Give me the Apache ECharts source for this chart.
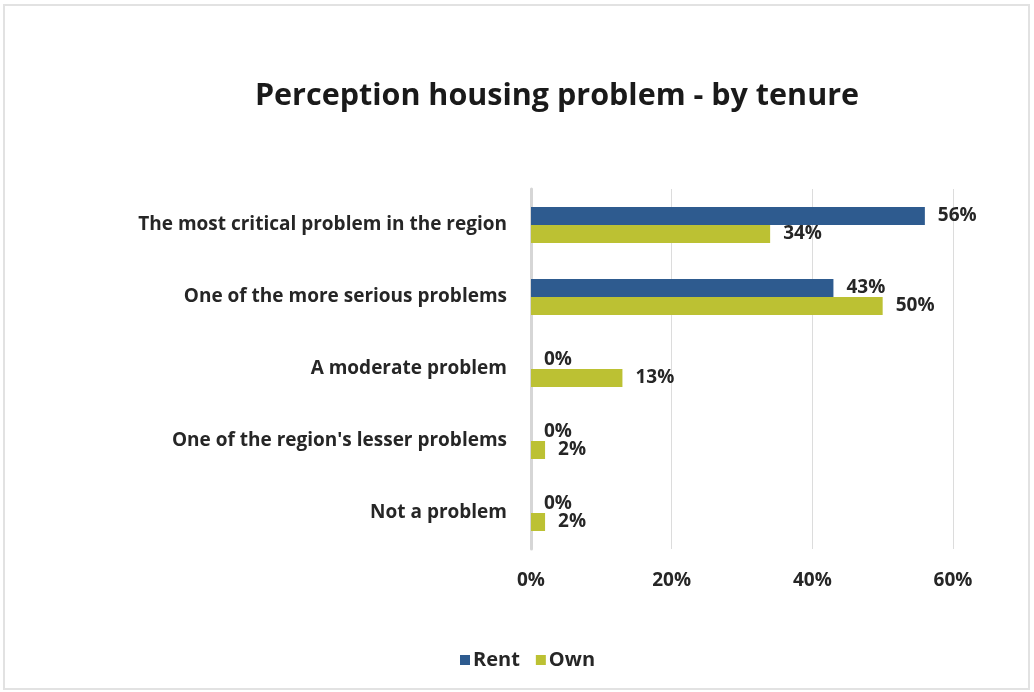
<!DOCTYPE html>
<html>
<head>
<meta charset="utf-8">
<script src="https://cdn.jsdelivr.net/npm/echarts@6/dist/echarts.min.js"></script>
<style>
  html, body { margin: 0; padding: 0; background: #fff; }
  #chart { width: 1034px; height: 692px; }
</style>
</head>
<body>
<div id="chart"></div>
<script>
// Survey answers, listed top to bottom
const categories = [
  'The most critical problem in the region',
  'One of the more serious problems',
  'A moderate problem',
  "One of the region's lesser problems",
  'Not a problem'
];
// Share of respondents (%) per tenure group
const rentValues = [56, 43, 0, 0, 0];
const ownValues = [34, 50, 13, 2, 2];
const seriesNames = ['Rent', 'Own'];
const axisTicks = [0, 20, 40, 60];

const FONT = '"Open Sans", sans-serif';
const TEXT = '#262626';

const chart = echarts.init(document.getElementById('chart'), null, { renderer: 'canvas' });

const valueLabel = {
  show: true,
  position: 'right',
  distance: 13,
  formatter: '{c}%',
  fontFamily: FONT,
  fontWeight: 'bold',
  fontSize: 19,
  color: TEXT
};

chart.setOption({
  backgroundColor: '#fff',
  animation: false,
  title: {
    text: 'Perception housing problem - by tenure',
    left: 552,
    textAlign: 'center',
    top: 76,
    textStyle: { fontFamily: FONT, fontWeight: 'bold', fontSize: 30.5, color: '#1a1a1a' }
  },
  graphic: [{
    type: 'rect',
    shape: { x: 4, y: 5, width: 1025, height: 684 },
    style: { fill: 'none', stroke: '#e2e2e2', lineWidth: 2 },
    silent: true
  }],
  legend: {
    data: seriesNames,
    left: 455,
    top: 645,
    itemWidth: 10,
    itemHeight: 10,
    itemGap: 16,
    itemStyle: { borderWidth: 0 },
    icon: 'rect',
    textStyle: { fontFamily: FONT, fontWeight: 'bold', fontSize: 20, color: TEXT, padding: [0, 0, 0, -2] }
  },
  grid: { left: 531, right: 81, top: 189, bottom: 143, containLabel: false },
  xAxis: {
    type: 'value',
    min: axisTicks[0],
    max: axisTicks[axisTicks.length - 1],
    interval: axisTicks[1] - axisTicks[0],
    axisLine: { show: false },
    axisTick: { show: false },
    splitLine: { lineStyle: { color: '#dcdcdc', width: 1 } },
    axisLabel: {
      formatter: '{value}%',
      margin: 22,
      fontFamily: FONT,
      fontWeight: 'bold',
      fontSize: 19,
      color: TEXT
    }
  },
  yAxis: {
    type: 'category',
    inverse: true,
    data: categories,
    axisLine: { show: true, lineStyle: { color: '#d6d6d6', width: 3 } },
    axisTick: { show: false },
    axisLabel: {
      margin: 24,
      fontFamily: FONT,
      fontWeight: 'bold',
      fontSize: 19,
      color: TEXT
    }
  },
  series: [
    {
      name: seriesNames[0],
      type: 'bar',
      data: rentValues,
      barWidth: 18,
      barGap: '0%',
      itemStyle: { color: '#2e5b8f' },
      label: valueLabel
    },
    {
      name: seriesNames[1],
      type: 'bar',
      data: ownValues,
      barWidth: 18,
      barGap: '0%',
      itemStyle: { color: '#bcc133' },
      label: valueLabel
    }
  ]
});
</script>
</body>
</html>
